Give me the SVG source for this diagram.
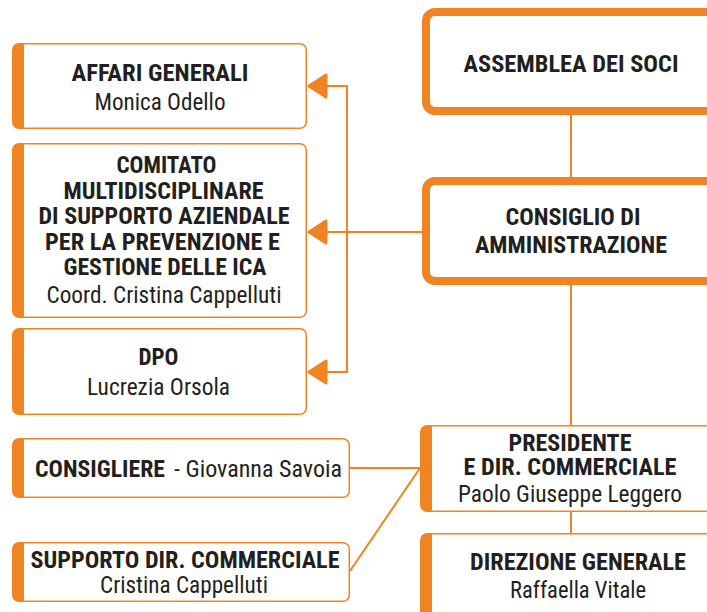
<svg xmlns="http://www.w3.org/2000/svg" xmlns:xlink="http://www.w3.org/1999/xlink" width="707" height="612" viewBox="0 0 707 612">
<style>
.bar{fill:#F08423}
.in{fill:#FFFFFF}
.thick{fill:#FFFFFF;stroke:#F08423;stroke-width:8}
.t{font-family:"Liberation Sans Narrow","Roboto Condensed","DejaVu Sans Condensed","Liberation Sans",sans-serif;font-size:24px;fill:#231F20;text-anchor:middle}
.b{font-weight:bold}
.s{text-anchor:start}
.ln{fill:none;stroke:#F08423;stroke-width:2}
.ar{fill:#F08423;stroke:#F08423;stroke-width:3;stroke-linejoin:round}
</style>
<defs>
<path id="arr" d="M309,0 L326,-11 L326,11 Z"/>
</defs>
<rect width="707" height="612" fill="#FFFFFF"/>
<g id="connectors">
<line class="ln" x1="571" y1="115" x2="571" y2="177"/>
<line class="ln" x1="571" y1="285" x2="571" y2="425"/>
<line class="ln" x1="571" y1="512" x2="571" y2="533"/>
<line class="ln" x1="422" y1="232" x2="322" y2="232"/>
<polyline class="ln" points="322,86 347,86 347,372 322,372"/>
<use href="#arr" class="ar" transform="translate(0,86)"/>
<use href="#arr" class="ar" transform="translate(0,232)"/>
<use href="#arr" class="ar" transform="translate(0,372)"/>
<line class="ln" x1="350" y1="468" x2="420" y2="468"/>
<line class="ln" x1="350" y1="571" x2="420" y2="468"/>
</g>
<g id="assemblea">
<rect class="thick" x="426" y="12" width="300" height="99" rx="9"/>
<text class="t b" x="571" y="72" textLength="215" lengthAdjust="spacingAndGlyphs">ASSEMBLEA DEI SOCI</text>
</g>
<g id="consiglio">
<rect class="thick" x="426" y="181" width="300" height="100" rx="9"/>
<text class="t b" x="573" y="225" textLength="135" lengthAdjust="spacingAndGlyphs">CONSIGLIO DI</text>
<text class="t b" x="571" y="253" textLength="192" lengthAdjust="spacingAndGlyphs">AMMINISTRAZIONE</text>
</g>
<g id="affari">
<rect class="bar" x="12" y="43" width="295" height="86" rx="7"/>
<path class="in" d="M24,44.5 H300 A5.5,5.5 0 0 1 305.5,50 V122 A5.5,5.5 0 0 1 300,127.5 H24 Z"/>
<text class="t b" x="160" y="81" textLength="177" lengthAdjust="spacingAndGlyphs">AFFARI GENERALI</text>
<text class="t" x="160" y="110" textLength="131" lengthAdjust="spacingAndGlyphs">Monica Odello</text>
</g>
<g id="comitato">
<rect class="bar" x="12" y="143" width="295" height="175" rx="7"/>
<path class="in" d="M24,144.5 H300 A5.5,5.5 0 0 1 305.5,150 V311 A5.5,5.5 0 0 1 300,316.5 H24 Z"/>
<text class="t b" x="166.5" y="173" textLength="100" lengthAdjust="spacingAndGlyphs">COMITATO</text>
<text class="t b" x="163.5" y="198.5" textLength="200" lengthAdjust="spacingAndGlyphs">MULTIDISCIPLINARE</text>
<text class="t b" x="164" y="224" textLength="251" lengthAdjust="spacingAndGlyphs">DI SUPPORTO AZIENDALE</text>
<text class="t b" x="162.5" y="250" textLength="235" lengthAdjust="spacingAndGlyphs">PER LA PREVENZIONE E</text>
<text class="t b" x="165" y="275" textLength="203" lengthAdjust="spacingAndGlyphs">GESTIONE DELLE ICA</text>
<text class="t" x="164" y="303" textLength="235" lengthAdjust="spacingAndGlyphs">Coord. Cristina Cappelluti</text>
</g>
<g id="dpo">
<rect class="bar" x="12" y="328" width="295" height="87" rx="7"/>
<path class="in" d="M24,329.5 H300 A5.5,5.5 0 0 1 305.5,335 V408 A5.5,5.5 0 0 1 300,413.5 H24 Z"/>
<text class="t b" x="158.5" y="365" textLength="40" lengthAdjust="spacingAndGlyphs">DPO</text>
<text class="t" x="158.5" y="395" textLength="143" lengthAdjust="spacingAndGlyphs">Lucrezia Orsola</text>
</g>
<g id="consigliere">
<rect class="bar" x="12" y="438" width="338" height="60" rx="7"/>
<path class="in" d="M24,439.5 H343 A5.5,5.5 0 0 1 348.5,445 V491 A5.5,5.5 0 0 1 343,496.5 H24 Z"/>
<text class="t b s" x="35" y="477" textLength="130" lengthAdjust="spacingAndGlyphs">CONSIGLIERE</text>
<text class="t s" x="174" y="477" textLength="168" lengthAdjust="spacingAndGlyphs">- Giovanna Savoia</text>
</g>
<g id="supporto">
<rect class="bar" x="12" y="542" width="338" height="60" rx="7"/>
<path class="in" d="M24,543.5 H343 A5.5,5.5 0 0 1 348.5,549 V595 A5.5,5.5 0 0 1 343,600.5 H24 Z"/>
<text class="t b" x="185" y="568" textLength="309" lengthAdjust="spacingAndGlyphs">SUPPORTO DIR. COMMERCIALE</text>
<text class="t" x="184" y="593" textLength="168" lengthAdjust="spacingAndGlyphs">Cristina Cappelluti</text>
</g>
<g id="presidente">
<rect class="bar" x="420" y="425" width="300" height="87" rx="7"/>
<path class="in" d="M432,426.5 H720 V510.5 H432 Z"/>
<text class="t b" x="570" y="451" textLength="123" lengthAdjust="spacingAndGlyphs">PRESIDENTE</text>
<text class="t b" x="570" y="475" textLength="213" lengthAdjust="spacingAndGlyphs">E DIR. COMMERCIALE</text>
<text class="t" x="570" y="501.5" textLength="224" lengthAdjust="spacingAndGlyphs">Paolo Giuseppe Leggero</text>
</g>
<g id="direzione">
<rect class="bar" x="420" y="533" width="300" height="100" rx="7"/>
<path class="in" d="M432,534.5 H720 V640 H432 Z"/>
<text class="t b" x="578" y="570" textLength="216" lengthAdjust="spacingAndGlyphs">DIREZIONE GENERALE</text>
<text class="t" x="578" y="598" textLength="136" lengthAdjust="spacingAndGlyphs">Raffaella Vitale</text>
</g>
</svg>
